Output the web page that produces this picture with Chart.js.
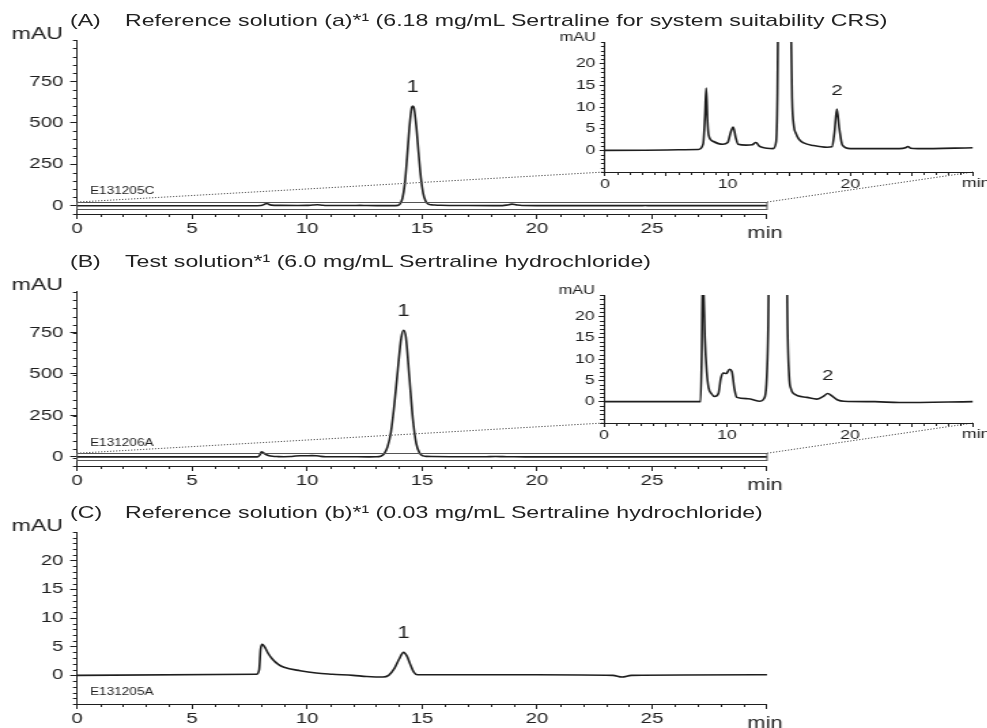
<!DOCTYPE html>
<html>
<head>
<meta charset="utf-8">
<script src="https://cdn.jsdelivr.net/npm/chart.js@4/dist/chart.umd.min.js"></script>
<style>
	body { margin: 0; width: 987px; height: 728px; overflow: hidden; position: relative; background: #fff; color: #222; font-family: "Liberation Sans", Arial, sans-serif; }
	.wrap { position: absolute; left: 0; transform-origin: 0 0; }
	.wrap canvas { display: block; }
	.title { position: absolute; white-space: nowrap; font-size: 17px; line-height: 17px; transform-origin: 0 0; }
	#overlay { position: absolute; left: 0; top: 0; }
</style>
</head>
<body>
<script>
/*--------------------------------------------------------------------------------------------------------------------*/
/* data (retention time in min, absorbance in mAU)                                 */
/*--------------------------------------------------------------------------------------------------------------------*/

const timeA = [0, 7.6, 8.0, 8.15, 8.25, 8.35, 8.45, 8.8, 9.6, 10.0, 10.25, 10.45, 10.65, 10.85, 11.5, 12.0, 12.3, 12.6, 13.2, 13.7,
	13.95, 14.05, 14.15, 14.25, 14.35, 14.45, 14.55, 14.6, 14.65, 14.75, 14.85, 14.95, 15.05, 15.15, 15.25, 15.4, 15.55, 15.8,
	16.2, 17.0, 18.1, 18.5, 18.7, 18.9, 19.1, 19.35, 20.0, 24.0, 24.5, 24.7, 24.9, 25.5, 30.0];
const mauA = [0, 0.2, 1.5, 8, 14.4, 7, 3.5, 2.1, 1.4, 1.8, 4.2, 5.4, 3.0, 1.4, 1.2, 1.3, 1.8, 0.9, 0.5, 0.4,
	2, 12, 45, 130, 290, 470, 590, 602, 590, 480, 320, 170, 75, 30, 12, 5.5, 4, 2.6,
	1.7, 1.1, 0.7, 0.8, 4, 9.5, 5, 1.2, 0.4, 0.4, 0.6, 0.9, 0.5, 0.4, 0.6];

const timeB = [0, 7.85, 7.95, 8.02, 8.1, 8.2, 8.35, 8.5, 8.75, 9.0, 9.3, 9.5, 9.7, 9.95, 10.2, 10.4, 10.6, 10.8, 11.7, 12.7,
	13.0, 13.2, 13.35, 13.5, 13.65, 13.8, 13.95, 14.1, 14.2, 14.3, 14.45, 14.6, 14.75, 14.9, 15.05, 15.2, 15.4, 16.5, 17.3,
	17.8, 18.2, 18.5, 19.0, 19.5, 22.0, 24.0, 30.0];
const mauB = [0, 0, 12, 30, 26, 15, 7, 3.3, 1.8, 1.2, 1.9, 5.5, 6.7, 6.6, 7.6, 7.0, 3, 1.0, 0.7, 0.1,
	0.7, 4, 18, 60, 150, 320, 530, 720, 763, 720, 480, 230, 80, 22, 6, 3, 1.9, 1.0, 0.6,
	1.2, 1.9, 1.4, 0.4, 0.1, 0, -0.2, 0];

const timeC = [0, 7.8, 7.92, 7.98, 8.05, 8.15, 8.3, 8.5, 8.75, 9.0, 9.7, 10.4, 11.1, 12.0, 12.6, 13.3, 13.55, 13.8, 14.0,
	14.2, 14.35, 14.5, 14.65, 14.8, 16.0, 20.0, 23.3, 23.7, 24.1, 30.0];
const mauC = [0, 0.2, 1, 4.5, 5.4, 5.0, 3.9, 2.8, 1.9, 1.4, 0.8, 0.4, 0.2, 0, -0.2, -0.3, 0, 1.2, 2.8,
	4.0, 3.3, 1.8, 0.5, 0.1, 0.1, 0.1, 0, -0.3, 0, 0.1];

const xTicks = [0, 5, 10, 15, 20, 25, 30];
const xLabelsMain = [0, 5, 10, 15, 20, 25];
const xLabelsInset = [0, 10, 20];
const yTicksLarge = [0, 250, 500, 750];
const yTicksSmall = [0, 5, 10, 15, 20];

const peakTimeA = [14.6], peakMauA = [602], peakNameA = ['1'];
const peakTimeA2 = [18.9], peakMauA2 = [9.5], peakNameA2 = ['2'];
const peakTimeB = [14.2], peakMauB = [763], peakNameB = ['1'];
const peakTimeB2 = [18.2], peakMauB2 = [1.9], peakNameB2 = ['2'];
const peakTimeC = [14.2], peakMauC = [4.0], peakNameC = ['1'];

const zoomTime = [0, 30];
const zoomMau = [-22, 22];

const panelTags = ['(A)', '(B)', '(C)'];
const panelTitles = [
	'Reference solution (a)*\u00B9 (6.18 mg/mL Sertraline for system suitability CRS)',
	'Test solution*\u00B9 (6.0 mg/mL Sertraline hydrochloride)',
	'Reference solution (b)*\u00B9 (0.03 mg/mL Sertraline hydrochloride)',
];
const sampleCodes = ['E131205C', 'E131206A', 'E131205A'];

/*--------------------------------------------------------------------------------------------------------------------*/

const S = 1.36;           // the scan is stretched horizontally
const CW = 726;           // canvas width before the stretch
const PAD_T = 18;
const PAD_B = 30;
const X_H = 20;
const INK = '#1e1e1e';
const FONT = '"Liberation Sans", Arial, sans-serif';

/*--------------------------------------------------------------------------------------------------------------------*/

function text(ctx, str, x, y, size, align)
{
	ctx.font = size + 'px ' + FONT;
	ctx.textAlign = align;
	ctx.textBaseline = 'alphabetic';
	ctx.fillStyle = INK;
	ctx.fillText(str, x, y);
}

const chromPlugin = {
	id: 'chrom',

	afterDraw: function(chart, args, o)
	{
		const ctx = chart.ctx;
		const ca = chart.chartArea;
		const xs = chart.scales.x;
		const ys = chart.scales.y;

		ctx.save();
		ctx.strokeStyle = INK;
		ctx.lineWidth = 1;

		/* minor ticks */
		ctx.beginPath();
		for(let v = xs.min; v <= xs.max + 1e-9; v += o.xMinor)
		{
			if(xTicks.includes(v)) continue;
			const px = Math.round(xs.getPixelForValue(v)) + 0.5;
			ctx.moveTo(px, ca.bottom);
			ctx.lineTo(px, ca.bottom + 3);
		}
		for(let v = ys.min; v <= ys.max + 1e-9; v += o.yMinor)
		{
			if(o.yTicks.includes(v)) continue;
			const py = Math.round(ys.getPixelForValue(v)) + 0.5;
			ctx.moveTo(ca.left, py);
			ctx.lineTo(ca.left - 3, py);
		}
		ctx.stroke();

		/* zoom box */
		if(o.box)
		{
			ctx.strokeStyle = '#555';
			const x0 = xs.getPixelForValue(zoomTime[0]), x1 = xs.getPixelForValue(zoomTime[1]);
			const y0 = ys.getPixelForValue(zoomMau[1]), y1 = ys.getPixelForValue(zoomMau[0]);
			ctx.strokeRect(x0, Math.round(y0) + 0.5, x1 - x0, Math.round(y1 - y0));
		}

		/* texts */
		text(ctx, 'mAU', ca.left - o.unitGap / S, ca.top - 1, o.unitSize, 'right');
		text(ctx, 'min', ca.right + o.minDx / S, ca.bottom + o.minDy, o.minSize, o.minAlign);

		if(o.code)
		{
			text(ctx, o.code, ca.left + 13 / S, ca.bottom - o.codeDy, 10, 'left');
		}

		o.peakTime.forEach((t, i) => {
			text(ctx, o.peakName[i], xs.getPixelForValue(t), ys.getPixelForValue(o.peakMau[i]) - 14, o.peakSize, 'center');
		});

		ctx.restore();
	},
};

/*--------------------------------------------------------------------------------------------------------------------*/

function makeChart(spec)
{
	const wrap = document.createElement('div');
	const top = spec.box.t - PAD_T;
	wrap.className = 'wrap';
	wrap.style.top = top + 'px';
	wrap.style.transform = 'scaleX(' + S + ')';

	const canvas = document.createElement('canvas');
	canvas.width = CW;
	canvas.height = spec.box.b - spec.box.t + PAD_T + PAD_B;
	wrap.appendChild(canvas);
	document.body.appendChild(wrap);

	const chart = new Chart(canvas.getContext('2d'), {
		type: 'line',
		data: {
			datasets: [{
				data: spec.times.map((t, i) => ({x: t, y: spec.values[i]})),
				borderColor: INK,
				borderWidth: 1.6,
				pointRadius: 0,
				fill: false,
				cubicInterpolationMode: 'monotone',
			}],
		},
		options: {
			responsive: false,
			animation: false,
			devicePixelRatio: 1,
			events: [],
			layout: {
				padding: {
					left: spec.box.l / S - spec.yWidth,
					right: CW - spec.box.r / S,
					top: PAD_T,
					bottom: PAD_B - X_H,
				},
			},
			plugins: {
				legend: {display: false},
				tooltip: {enabled: false},
				chrom: spec.chrom,
			},
			scales: {
				x: {
					type: 'linear',
					min: 0,
					max: 30,
					afterBuildTicks: (s) => { s.ticks = xTicks.map((v) => ({value: v})); },
					afterFit: (s) => { s.height = X_H; },
					grid: {drawOnChartArea: false, tickLength: spec.xTick, color: INK},
					border: {color: INK, width: 1},
					ticks: {
						autoSkip: false,
						maxRotation: 0,
						padding: 1,
						color: INK,
						font: {family: FONT, size: spec.tickSize},
						callback: (v) => spec.xLabels.includes(v) ? String(v) : '',
					},
				},
				y: {
					type: 'linear',
					min: spec.yRange[0],
					max: spec.yRange[1],
					afterBuildTicks: (s) => { s.ticks = spec.chrom.yTicks.map((v) => ({value: v})); },
					afterFit: (s) => { s.width = spec.yWidth; },
					grid: {drawOnChartArea: false, tickLength: spec.yTick, color: INK},
					border: {color: INK, width: 1},
					ticks: {
						autoSkip: false,
						padding: spec.yPad,
						color: INK,
						font: {family: FONT, size: spec.tickSize},
					},
				},
			},
		},
		plugins: [chromPlugin],
	});

	chart.wrapTop = top;

	return chart;
}

/*--------------------------------------------------------------------------------------------------------------------*/

function mainSpec(box, times, values, yRange, yTicks, yMinor, code, codeDy, peakTime, peakMau, peakName, withBox)
{
	return {
		box: box, times: times, values: values, yRange: yRange,
		xLabels: xLabelsMain, yWidth: 52, xTick: 5, yTick: 5, yPad: 5, tickSize: 15,
		chrom: {
			yTicks: yTicks, xMinor: 1, yMinor: yMinor,
			unitGap: 14, unitSize: 17,
			minDx: -2, minDy: 24, minSize: 16, minAlign: 'center',
			code: code, codeDy: codeDy,
			peakTime: peakTime, peakMau: peakMau, peakName: peakName, peakSize: 16,
			box: withBox,
		},
	};
}

function insetSpec(box, times, values, peakTime, peakMau, peakName)
{
	return {
		box: box, times: times, values: values, yRange: [-5, 25],
		xLabels: xLabelsInset, yWidth: 30, xTick: 4, yTick: 4, yPad: 3, tickSize: 13,
		chrom: {
			yTicks: yTicksSmall, xMinor: 1, yMinor: 1,
			unitGap: 9, unitSize: 12,
			minDx: -11, minDy: 15, minSize: 13, minAlign: 'left',
			code: null, codeDy: 0,
			peakTime: peakTime, peakMau: peakMau, peakName: peakName, peakSize: 15,
			box: false,
		},
	};
}

const chartA = makeChart(mainSpec({l: 77, t: 40, r: 767, b: 214}, timeA, mauA, [-50, 1000], yTicksLarge, 50,
	sampleCodes[0], 20, peakTimeA, peakMauA, peakNameA, true));
const chartB = makeChart(mainSpec({l: 77, t: 291, r: 767, b: 466}, timeB, mauB, [-55, 1000], yTicksLarge, 50,
	sampleCodes[1], 20, peakTimeB, peakMauB, peakNameB, true));
const chartC = makeChart(mainSpec({l: 77, t: 532, r: 767, b: 704}, timeC, mauC, [-5, 25], yTicksSmall, 1,
	sampleCodes[2], 9, peakTimeC, peakMauC, peakNameC, false));

/*--------------------------------------------------------------------------------------------------------------------*/
/* dotted lines from the zoom box to the insets                                                                       */
/*--------------------------------------------------------------------------------------------------------------------*/

const overlay = document.createElement('canvas');
overlay.id = 'overlay';
overlay.width = 987;
overlay.height = 728;
document.body.appendChild(overlay);

const insetA = makeChart(insetSpec({l: 605, t: 42, r: 973, b: 172}, timeA, mauA, peakTimeA2, peakMauA2, peakNameA2));
const insetB = makeChart(insetSpec({l: 604, t: 295, r: 973, b: 423}, timeB, mauB, peakTimeB2, peakMauB2, peakNameB2));

function zoomLines(main, inset)
{
	const ctx = overlay.getContext('2d');
	const xs = main.scales.x;
	const ys = main.scales.y;
	const ca = inset.chartArea;
	const ends = [ca.left, ca.right];

	ctx.save();
	ctx.strokeStyle = '#666';
	ctx.lineWidth = 1;
	ctx.setLineDash([1.5, 1.5]);
	ctx.beginPath();
	zoomTime.forEach((t, i) => {
		ctx.moveTo(xs.getPixelForValue(t) * S, ys.getPixelForValue(zoomMau[1]) + main.wrapTop);
		ctx.lineTo(ends[i] * S, ca.bottom + inset.wrapTop);
	});
	ctx.stroke();
	ctx.restore();
}

zoomLines(chartA, insetA);
zoomLines(chartB, insetB);

/*--------------------------------------------------------------------------------------------------------------------*/
/* panel titles                                                                                                       */
/*--------------------------------------------------------------------------------------------------------------------*/

const titleBaselines = [26, 267, 518];

panelTags.forEach((tag, i) => {
	[[70, tag], [125, panelTitles[i]]].forEach(([x, str]) => {
		const el = document.createElement('div');
		el.className = 'title';
		el.textContent = str;
		el.style.left = x + 'px';
		el.style.top = (titleBaselines[i] - 14.4) + 'px';
		el.style.transform = 'scaleX(' + S + ')';
		document.body.appendChild(el);
	});
});

/*--------------------------------------------------------------------------------------------------------------------*/
</script>
</body>
</html>
